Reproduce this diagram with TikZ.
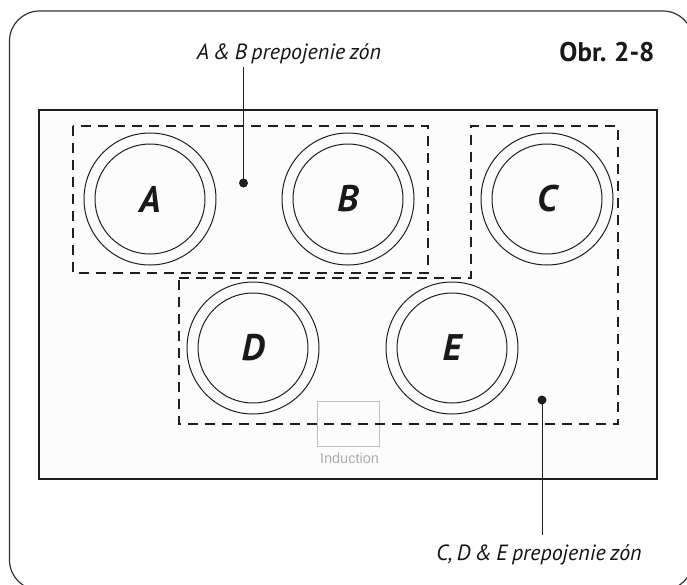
\documentclass[tikz,border=0pt]{standalone}
\usepackage{fontspec}
\setmainfont{PT Sans}
\newfontfamily\indfont{Liberation Sans}
\newcommand\tightsp{\fontdimen2\font=0.2em\relax}
\begin{document}
\begin{tikzpicture}[x=1pt,y=-1pt,
 frame/.style={draw=black!80, line width=1.2pt, rounded corners=30pt},
 cooktop/.style={draw=black!88, line width=1.8pt, fill=black!1},
 zone/.style={draw=black!88, line width=1.8pt, dash pattern=on 10pt off 7pt},
 hob/.style={circle, draw=black!88, line width=1pt, minimum size=132pt, inner sep=0pt},
 ring/.style={circle, draw=black!88, line width=1pt, minimum size=110pt, inner sep=0pt,
   font=\fontsize{37}{37}\selectfont\bfseries\itshape, text=black!90},
 lbl/.style={font=\fontsize{22}{22}\selectfont\itshape\tightsp, text=black!92, inner sep=0pt, anchor=base},
 title/.style={font=\fontsize{27}{27}\selectfont\bfseries\tightsp, text=black!90, inner sep=0pt, anchor=base},
 pin/.style={circle, fill=black!88, minimum size=9pt, inner sep=0pt},
 leader/.style={draw=black!88, line width=1pt},
 indbox/.style={draw=black!25, line width=1pt, minimum width=62pt, minimum height=45pt, inner sep=0pt},
 indtext/.style={font=\indfont\fontsize{14.5}{15}\selectfont, text=black!32, inner sep=0pt, anchor=base},
]
\useasboundingbox (0,0) rectangle (687,584);
\begin{scope}
\clip (0,0) rectangle (687,584);
\draw[frame] (9.5,11) rectangle (693,590);
\end{scope}

% cooktop
\draw[cooktop] (39,110) rectangle (657,479);

% induction logo
\node[indbox] (ind) at (348,423.5) {};
\node[indtext] (indlbl) at (349.5,463) {Induction};

% zones
\draw[zone] (73,126) rectangle (428,273);
\draw[zone] (179,278) -- (471,278) -- (471,126) -- (618,126) -- (618,424) -- (179,424) -- cycle;

% cooking zones
\foreach \n/\x/\y in {A/150/199, B/348/199, C/547/199, D/253/348, E/452/348}{
  \node[hob] (\n o) at (\x,\y) {};
  \node[ring] (\n) at (\x,\y) {\n};
}

% labels
\node[lbl] (labAB) at (289,59) {A \& B prepojenie zón};
\node[lbl] (labCDE) at (539,560) {C, D \& E prepojenie zón};
\node[title] (obr) at (607,61) {Obr. 2-8};

% pins and leaders
\node[pin] (pinAB) at (243.5,183) {};
\coordinate (endAB) at (243.5,67);
\draw[leader] (pinAB.center) -- (endAB);
\node[pin] (pinCDE) at (542,400) {};
\coordinate (endCDE) at (542,535);
\draw[leader] (pinCDE.center) -- (endCDE);
\end{tikzpicture}
\end{document}
